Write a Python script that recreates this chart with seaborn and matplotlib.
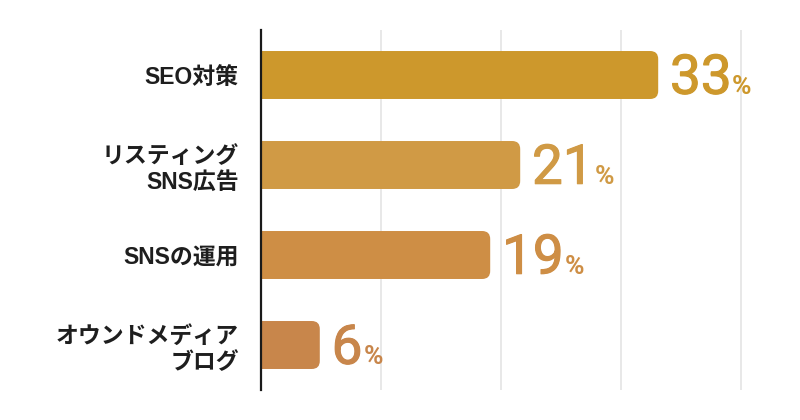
import matplotlib
matplotlib.use("Agg")
import matplotlib.pyplot as plt
import matplotlib.patheffects as pe
import seaborn as sns
import pandas as pd
from matplotlib.patches import FancyBboxPatch

categories = ["SEO対策", "リスティング\nSNS広告", "SNSの運用", "オウンドメディア\nブログ"]
values = [33.1, 21.6, 19.1, 4.9]
value_labels = ["33", "21", "19", "6"]
colors = ["#CD982C", "#D09A45", "#CE8E45", "#C8864B"]

sns.set_theme(style="white")
plt.rcParams["font.family"] = ["Liberation Sans", "Noto Sans CJK JP", "DejaVu Sans"]

fig = plt.figure(figsize=(8, 4.2), dpi=100)
ax = fig.add_axes([261 / 800, 30 / 420, 528 / 800, 360 / 420])

df = pd.DataFrame({"cat": categories, "val": values})
sns.barplot(data=df, x="val", y="cat", hue="cat", palette=colors, legend=False,
            orient="h", width=0.533, saturation=1, ax=ax, zorder=2)

ax.set_xlim(0, 44)
ax.set_ylim(3.5, -0.5)

# replace bars with rounded versions
xu = 528 / 44.0
yu = 360 / 4.0
r_px = 8
for p in list(ax.patches):
    x0, y0 = p.get_x(), p.get_y()
    w, h = p.get_width(), p.get_height()
    fc = p.get_facecolor()
    p.remove()
    fb = FancyBboxPatch((x0 - 1.5, y0), w + 1.5, h,
                        boxstyle=f"round,pad=0,rounding_size={r_px / xu}",
                        mutation_aspect=xu / yu, facecolor=fc, edgecolor="none",
                        zorder=2, clip_on=True)
    ax.add_patch(fb)

# grid
for gx in [10, 20, 30, 40]:
    ax.axvline(gx, color="#E6E6E6", lw=1.3, zorder=0)

for s in ["top", "right", "bottom"]:
    ax.spines[s].set_visible(False)
ax.spines["left"].set_color("#1a1a1a")
ax.spines["left"].set_linewidth(1.6)
ax.spines["left"].set_zorder(5)

ax.set_xticks([])
ax.set_xlabel("")
ax.set_ylabel("")
ax.tick_params(axis="y", length=0, pad=16)
ax.set_yticks(range(len(categories)))
ax.set_yticklabels(categories, fontsize=16.5, fontweight="bold", color="#1e1e1e",
                   linespacing=1.2)

fig.canvas.draw()
renderer = fig.canvas.get_renderer()
for i, (v, lab, c) in enumerate(zip(values, value_labels, colors)):
    t = ax.annotate(lab, xy=(v, i), xytext=(8.5, -13.5), textcoords="offset points",
                    ha="left", va="baseline", fontsize=39.5, fontweight="normal", color=c,
                    family=["Roboto", "DejaVu Sans"], zorder=6,
                    path_effects=[pe.withStroke(linewidth=0.8, foreground=c)])
    fig.canvas.draw()
    bb = t.get_window_extent(renderer)
    xd = ax.transData.inverted().transform((bb.x1, 0))[0]
    ax.annotate("%", xy=(xd, i), xytext=(0.5, -13.5), textcoords="offset points",
                ha="left", va="baseline", fontsize=19, fontweight="bold", color=c,
                family=["Roboto", "DejaVu Sans"], zorder=6, annotation_clip=False)

fig.savefig("out.png", dpi=100, facecolor="white")
